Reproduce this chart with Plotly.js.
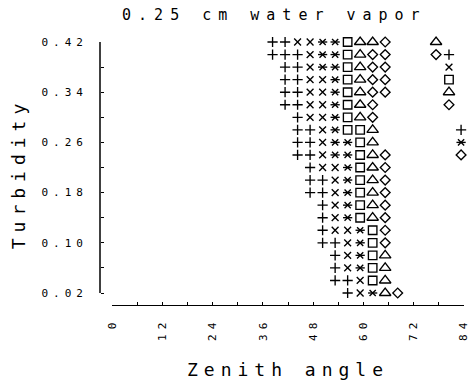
<!DOCTYPE html>
<html>
<head>
<meta charset="utf-8">
<script src="https://cdn.plot.ly/plotly-3.0.1.min.js"></script>
<style>
html,body{margin:0;padding:0;background:#fff;}
#chart{width:469px;height:387px;}
.gtitle{letter-spacing:7px;}
.xtitle{letter-spacing:6px;}
.ytitle{letter-spacing:6px;}
.xtick text,.ytick text{letter-spacing:5px;}
</style>
</head>
<body>
<div id="chart"></div>
<script>
// Zenith angle (x) and turbidity (y) for each plotting symbol
var plusX = [38.3,41.3, 38.3,41.3,44.3,80.6, 41.3,44.3, 41.3,44.3, 41.3,44.3, 41.3,44.3, 44.3, 44.3,47.3,83.5, 44.3,47.3, 44.3,47.3, 47.3, 47.3,50.3, 47.3,50.3, 50.3, 50.3, 50.3, 50.3,53.3, 53.3, 53.3, 53.3,56.3, 56.3];
var plusY = [0.42,0.42, 0.40,0.40,0.40,0.40, 0.38,0.38, 0.36,0.36, 0.34,0.34, 0.32,0.32, 0.30, 0.28,0.28,0.28, 0.26,0.26, 0.24,0.24, 0.22, 0.20,0.20, 0.18,0.18, 0.16, 0.14, 0.12, 0.10,0.10, 0.08, 0.06, 0.04,0.04, 0.02];

var crossX = [44.3,47.3, 47.3, 47.3,80.6, 47.3,50.3, 47.3,50.3, 47.3,50.3, 47.3,50.3, 50.3, 50.3, 50.3, 50.3,53.3, 53.3, 53.3, 53.3, 53.3, 53.3,56.3, 56.3, 56.3, 56.3, 59.3, 59.3];
var crossY = [0.42,0.42, 0.40, 0.38,0.38, 0.36,0.36, 0.34,0.34, 0.32,0.32, 0.30,0.30, 0.28, 0.26, 0.24, 0.22,0.22, 0.20, 0.18, 0.16, 0.14, 0.12,0.12, 0.10, 0.08, 0.06, 0.04, 0.02];

var starX = [50.3,53.3, 50.3,53.3, 50.3,53.3, 53.3, 53.3, 53.3, 53.3, 53.3, 53.3,56.3,83.5, 53.3,56.3, 56.3, 56.3, 56.3, 56.3, 56.3, 59.3, 59.3, 59.3, 59.3, 62.3];
var starY = [0.42,0.42, 0.40,0.40, 0.38,0.38, 0.36, 0.34, 0.32, 0.30, 0.28, 0.26,0.26,0.26, 0.24,0.24, 0.22, 0.20, 0.18, 0.16, 0.14, 0.12, 0.10, 0.08, 0.06, 0.02];

var squareX = [56.3, 56.3, 56.3, 56.3,80.6, 56.3, 56.3, 56.3, 56.3,59.3, 59.3, 59.3, 59.3, 59.3, 59.3, 59.3, 59.3, 62.3, 62.3, 62.3, 62.3, 62.3];
var squareY = [0.42, 0.40, 0.38, 0.36,0.36, 0.34, 0.32, 0.30, 0.28,0.28, 0.26, 0.24, 0.22, 0.20, 0.18, 0.16, 0.14, 0.12, 0.10, 0.08, 0.06, 0.04];

var triX = [59.3,62.3,77.5, 59.3, 59.3, 59.3, 59.3,80.6, 59.3, 59.3, 62.3, 62.3, 62.3, 62.3, 62.3, 62.3, 62.3, 62.3, 65.3, 65.3, 65.3, 65.3];
var triY = [0.42,0.42,0.42, 0.40, 0.38, 0.36, 0.34,0.34, 0.32, 0.30, 0.28, 0.26, 0.24, 0.22, 0.20, 0.18, 0.16, 0.14, 0.08, 0.06, 0.04, 0.02];

var diamondX = [65.3, 62.3,65.3,77.5, 62.3,65.3, 62.3,65.3, 62.3,65.3, 62.3,80.6, 62.3, 65.3,83.5, 65.3, 65.3, 65.3, 65.3, 65.3, 65.3, 65.3, 68.3];
var diamondY = [0.42, 0.40,0.40,0.40, 0.38,0.38, 0.36,0.36, 0.34,0.34, 0.32,0.32, 0.30, 0.24,0.24, 0.22, 0.20, 0.18, 0.16, 0.14, 0.12, 0.10, 0.02];

var xTickVals = [0,12,24,36,48,60,72,84];
var yTickVals = [0.02,0.10,0.18,0.26,0.34,0.42];
var yTickText = ['0.02','0.10','0.18','0.26','0.34','0.42'];
var yMin = 0.02, yMax = 0.42;

var lw = 1.35;
function tr(x, y, sym, size){
  return {x:x, y:y, type:'scatter', mode:'markers', showlegend:false, cliponaxis:false,
    hoverinfo:'x+y',
    marker:{symbol:sym, size:size, color:'#000', line:{color:'#000', width:lw}}};
}
var data = [
  tr(plusX, plusY, 'cross-thin-open', 7.3),
  tr(crossX, crossY, 'x-thin-open', 6.8),
  tr(starX, starY, 'x-thin-open', 6.2),
  tr(starX, starY, 'line-ew-open', 6.6),
  tr(squareX, squareY, 'square-open', 8.5),
  tr(triX, triY, 'triangle-up-open', 10),
  tr(diamondX, diamondY, 'diamond-open', 7.5)
];

var F = 'DejaVu Sans Mono, monospace';
// plot area: 0.42 at 42px, 0.02 at 293px; x axis line drawn at 305px
var pxPerUnit = (293 - 42) / (yMax - yMin);
var yLow = yMin - (305 - 293) / pxPerUnit;
var layout = {
  width:469, height:387,
  margin:{l:0,r:0,t:0,b:0},
  paper_bgcolor:'#fff', plot_bgcolor:'rgba(0,0,0,0)',
  showlegend:false,
  title:{text:'0.25 cm water vapor', font:{family:F, size:15, color:'#000'}, x:0.585, xanchor:'center', y:0.963, yanchor:'middle'},
  xaxis:{
    domain:[112/469, 464/469], range:[-0.2, 84.2],
    anchor:'y',
    showgrid:false, zeroline:false, showline:true, linecolor:'#000', linewidth:1.3,
    ticks:'inside', ticklen:3, tickwidth:1, tickcolor:'#000',
    tickvals:xTickVals, tickangle:-90, ticklabelstandoff:7, ticklabeloverflow:'allow',
    tickfont:{family:F, size:11, color:'#000'},
    minor:{dtick:6, tick0:0, ticks:'inside', ticklen:3, tickcolor:'#000', showgrid:false},
    title:{text:'Zenith angle', font:{family:F, size:18, color:'#000'}, standoff:23}
  },
  yaxis:{
    domain:[(387-305)/387, (387-42)/387], range:[yLow, yMax],
    anchor:'free', position:100/469,
    showgrid:false, zeroline:false, showline:false,
    ticks:'inside', ticklen:3, tickwidth:1, tickcolor:'#000',
    tickvals:yTickVals, ticktext:yTickText, ticklabelstandoff:12, ticklabeloverflow:'allow',
    tickfont:{family:F, size:11, color:'#000'},
    minor:{dtick:0.04, tick0:0.02, ticks:'inside', ticklen:3, tickcolor:'#000', showgrid:false},
    title:{text:'Turbidity', font:{family:F, size:18, color:'#000'}, standoff:10}
  },
  shapes:[
    {type:'line', xref:'paper', yref:'y', x0:100/469, x1:100/469, y0:yMin, y1:yMax,
     line:{color:'#000', width:1.5}}
  ]
};
Plotly.newPlot('chart', data, layout, {displayModeBar:false, staticPlot:true});
</script>
</body>
</html>
